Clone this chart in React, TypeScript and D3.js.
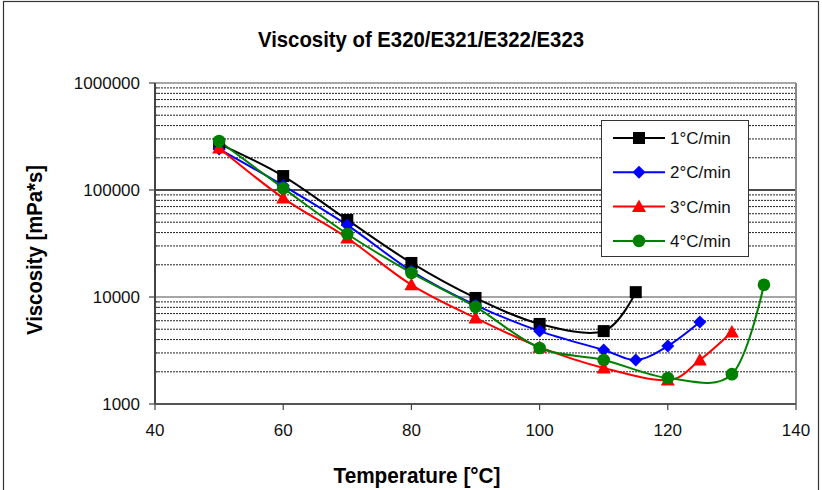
import * as d3 from "d3";

// temperatures (°C) and viscosity readings (mPa*s) per heating rate
const temps1 = [50, 60, 70, 80, 90, 100, 110, 115];
const visc1 = [270000, 135000, 52500, 20800, 9800, 5600, 4800, 11100];

const temps2 = [50, 60, 70, 80, 90, 100, 110, 115, 120, 125];
const visc2 = [241000, 110000, 47000, 17500, 8400, 4800, 3200, 2580, 3480, 5830];

const temps3 = [50, 60, 70, 80, 90, 100, 110, 120, 125, 130];
const visc3 = [247000, 84000, 35600, 13000, 6370, 3400, 2170, 1675, 2580, 4710];

const temps4 = [50, 60, 70, 80, 90, 100, 110, 120, 130, 135];
const visc4 = [287000, 104000, 38800, 16800, 8080, 3340, 2580, 1750, 1900, 13000];

const seriesNames = ["1°C/min", "2°C/min", "3°C/min", "4°C/min"];
const seriesColors = ["#000000", "#0000ff", "#ff0000", "#008000"];
const seriesShapes = ["square", "diamond", "triangle", "circle"];

const xTicks = [40, 60, 80, 100, 120, 140];
const yTicks = [1000, 10000, 100000, 1000000];

const W = 822;
const H = 490;

function Marker({ shape, x, y, color }: { shape: string; x: number; y: number; color: string }) {
  if (shape === "square") return <rect x={x - 6} y={y - 6} width={12} height={12} fill={color} />;
  if (shape === "diamond")
    return <path d={`M${x},${y - 6.5}L${x + 6.5},${y}L${x},${y + 6.5}L${x - 6.5},${y}Z`} fill={color} />;
  if (shape === "triangle")
    return <path d={`M${x},${y - 7}L${x + 7},${y + 5.5}L${x - 7},${y + 5.5}Z`} fill={color} />;
  return <circle cx={x} cy={y} r={6.3} fill={color} />;
}

export default function App() {
  const x = d3.scaleLinear().domain([40, 140]).range([155, 796]);
  const y = d3.scaleLog().domain([1000, 1000000]).range([404, 83]);

  const data = [
    temps1.map((t, i) => [t, visc1[i]]),
    temps2.map((t, i) => [t, visc2[i]]),
    temps3.map((t, i) => [t, visc3[i]]),
    temps4.map((t, i) => [t, visc4[i]]),
  ];

  const line = d3
    .line<number[]>()
    .x((d) => x(d[0]))
    .y((d) => y(d[1]))
    .curve(d3.curveCatmullRom.alpha(0));

  // minor log gridlines 2..9 x 10^k
  const minor: number[] = [];
  for (const k of [1000, 10000, 100000]) for (let m = 2; m <= 9; m++) minor.push(m * k);

  const boldFont = "'Liberation Sans', Arial, sans-serif";
  const font = "'Liberation Sans', Arial, sans-serif";

  return (
    <svg width={W} height={H} style={{ position: "absolute", left: 0, top: 0, background: "#fff" }}>
      <rect x={3.5} y={1.5} width={815} height={500} fill="#fff" stroke="#333" strokeWidth={1.2} />

      <text x={421} y={47} textAnchor="middle" fontFamily={boldFont} fontWeight="bold" fontSize={22}
        textLength={326} lengthAdjust="spacingAndGlyphs">
        Viscosity of E320/E321/E322/E323
      </text>

      {minor.map((v) => (
        <line key={v} x1={x(40)} x2={x(140)} y1={y(v)} y2={y(v)} stroke="#222" strokeWidth={1} strokeDasharray="2,1" />
      ))}
      {yTicks.map((v) => (
        <line key={v} x1={x(40)} x2={x(140)} y1={y(v)} y2={y(v)} stroke={v === 100000 ? "#111" : "#888"} strokeWidth={1.5} />
      ))}
      {/* plot border */}
      <line x1={x(140)} x2={x(140)} y1={y(1000000)} y2={y(1000)} stroke="#888" strokeWidth={2} />

      {/* y axis */}
      <line x1={x(40)} x2={x(40)} y1={y(1000000)} y2={y(1000)} stroke="#444" strokeWidth={2} />
      {yTicks.map((v) => (
        <g key={v}>
          <line x1={x(40) - 6} x2={x(40)} y1={y(v)} y2={y(v)} stroke="#444" strokeWidth={1.2} />
          <text x={140} y={y(v) + 6} textAnchor="end" fontFamily={font} fontSize={17} fill="#111">
            {v}
          </text>
        </g>
      ))}
      {minor.map((v) => (
        <line key={"t" + v} x1={x(40)} x2={x(40) + 3} y1={y(v)} y2={y(v)} stroke="#444" strokeWidth={1} />
      ))}

      {/* x axis */}
      <line x1={x(40)} x2={x(140)} y1={y(1000)} y2={y(1000)} stroke="#555" strokeWidth={2} />
      {xTicks.map((t) => (
        <g key={t}>
          <line x1={x(t)} x2={x(t)} y1={y(1000)} y2={y(1000) + 6} stroke="#444" strokeWidth={1.2} />
          <text x={x(t)} y={436} textAnchor="middle" fontFamily={font} fontSize={17} fill="#111">
            {t}
          </text>
        </g>
      ))}

      {data.map((s, i) => (
        <path key={i} d={line(s) || ""} fill="none" stroke={seriesColors[i]} strokeWidth={2} />
      ))}
      {data.map((s, i) =>
        s.map((d, j) => <Marker key={i + "-" + j} shape={seriesShapes[i]} x={x(d[0])} y={y(d[1])} color={seriesColors[i]} />)
      )}

      <text x={417} y={483} textAnchor="middle" fontFamily={boldFont} fontWeight="bold" fontSize={22}
        textLength={167} lengthAdjust="spacingAndGlyphs">
        Temperature [°C]
      </text>
      <text transform="translate(42,250) rotate(-90)" textAnchor="middle" fontFamily={boldFont} fontWeight="bold"
        fontSize={22} textLength={170} lengthAdjust="spacingAndGlyphs">
        Viscosity [mPa*s]
      </text>

      {/* legend */}
      <rect x={601.5} y={120.5} width={147} height={136} fill="#fff" stroke="#333" strokeWidth={1} />
      {seriesNames.map((n, i) => {
        const ly = 138 + i * 34.3;
        return (
          <g key={n}>
            <line x1={613} x2={665} y1={ly} y2={ly} stroke={seriesColors[i]} strokeWidth={2} />
            <Marker shape={seriesShapes[i]} x={639} y={ly} color={seriesColors[i]} />
            <text x={670} y={ly + 6} fontFamily={font} fontSize={17} fill="#111">
              {n}
            </text>
          </g>
        );
      })}
    </svg>
  );
}
